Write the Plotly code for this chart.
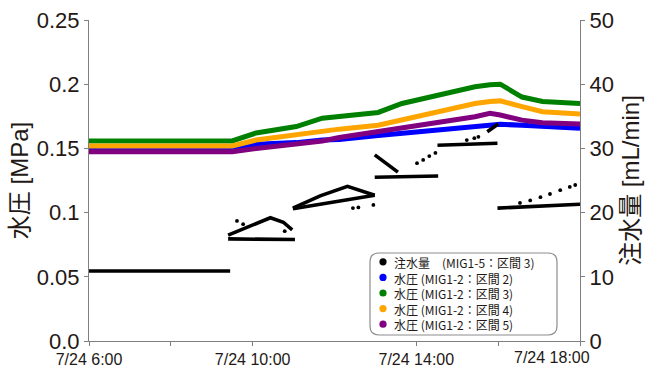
import plotly.graph_objects as go

DAY = "2020-07-24"

# ---- water pressure (MPa), sampled along each curve ----
P_TIME = ["06:00", "09:30", "10:05", "11:04", "11:42", "12:07", "13:04", "13:39",
          "14:42", "15:26", "15:48", "16:03", "16:35", "17:05", "18:00"]
P_ZONE2 = [0.1495, 0.1495, 0.1532, 0.1545, 0.1565, 0.1570, 0.1600, 0.1617,
           0.1650, 0.1670, 0.1680, 0.1688, 0.1680, 0.1670, 0.1657]
P_ZONE3 = [0.1558, 0.1558, 0.1620, 0.1670, 0.1735, 0.1750, 0.1780, 0.1850,
           0.1930, 0.1980, 0.1995, 0.2000, 0.1900, 0.1865, 0.1850]
P_ZONE4 = [0.1519, 0.1519, 0.1565, 0.1610, 0.1640, 0.1650, 0.1680, 0.1720,
           0.1800, 0.1850, 0.1865, 0.1870, 0.1825, 0.1786, 0.1768]
P_ZONE5 = [0.1474, 0.1474, 0.1500, 0.1534, 0.1558, 0.1585, 0.1630, 0.1664,
           0.1708, 0.1747, 0.1773, 0.1760, 0.1720, 0.1700, 0.1690]

# ---- injection rate (mL/min), MIG1-5 zone 3: traced runs ----
Q_RUNS = [
    (["06:00", "09:27"], [10.9, 10.9]),
    (["09:24", "11:02"], [15.9, 15.8]),
    (["09:24", "10:26", "10:45", "10:58"], [16.5, 19.2, 18.5, 17.3]),
    (["10:59", "12:59"], [20.6, 22.7]),
    (["10:59", "11:39", "12:19", "12:38", "12:59"], [20.7, 22.6, 24.1, 23.5, 22.7]),
    (["12:59", "13:33"], [29.0, 26.3]),
    (["12:59", "14:32"], [25.5, 25.7]),
    (["14:31", "15:59"], [30.5, 30.8]),
    (["15:44", "16:00"], [32.6, 33.8]),
    (["15:59", "18:00"], [20.7, 21.3]),
]
# isolated readings between the runs
Q_DOT_TIME = ["09:37", "09:46", "10:47", "12:27", "12:35", "12:57",
              "14:01", "14:10", "14:19", "14:28", "15:14", "15:25", "15:31",
              "16:32", "16:47", "17:02", "17:16", "17:31", "17:45", "17:53"]
Q_DOT_VAL = [18.7, 18.2, 17.1, 20.7, 20.8, 21.2,
             27.7, 28.2, 28.8, 29.3, 31.3, 31.6, 31.8,
             21.5, 21.9, 22.4, 22.9, 23.5, 24.0, 24.3]

Y_TICKS = [0, 0.05, 0.1, 0.15, 0.2, 0.25]
Y_TICKTEXT = ["0.0", "0.05", "0.1", "0.15", "0.2", "0.25"]
Y2_TICKS = [0, 10, 20, 30, 40, 50]
X_TICKS = ["06:00", "08:00", "10:00", "14:00", "16:00", "18:00"]
X_TICKTEXT = ["7/24 6:00", "", "7/24 10:00", "7/24 14:00", "", ""]
X_LAST_LABEL = "7/24 18:00"

SERIES = [
    ("注水量　(MIG1-5：区間 3)", "#000000"),
    ("水圧 (MIG1-2：区間 2)", "#0000ff"),
    ("水圧 (MIG1-2：区間 3)", "#008000"),
    ("水圧 (MIG1-2：区間 4)", "#ffa500"),
    ("水圧 (MIG1-2：区間 5)", "#800080"),
]

TXT = "#231815"
AX = "#7f7f7f"
FONT = "Liberation Sans, Arial, Noto Sans CJK JP, sans-serif"
JFONT = "Noto Sans CJK JP, sans-serif"

W, H = 646, 369
L, R, T, B = 89, 580, 20, 341


def ts(hhmm):
    return f"{DAY} {hhmm}"


def px(x):
    return (x - L) / (R - L)


def py(y):
    return (B - y) / (B - T)


fig = go.Figure()

pressure = [P_ZONE2, P_ZONE3, P_ZONE4, P_ZONE5]
for (name, color), vals in zip(SERIES[1:], pressure):
    fig.add_trace(go.Scatter(
        x=[ts(t) for t in P_TIME], y=vals, mode="lines", name=name,
        line=dict(color=color, width=5), showlegend=False, yaxis="y"))

qx, qy = [], []
for times, vals in Q_RUNS:
    qx += [ts(t) for t in times] + [None]
    qy += list(vals) + [None]
fig.add_trace(go.Scatter(
    x=qx, y=qy, mode="lines", name=SERIES[0][0], connectgaps=False,
    line=dict(color="#000000", width=3.6), showlegend=False, yaxis="y2"))
fig.add_trace(go.Scatter(
    x=[ts(t) for t in Q_DOT_TIME], y=Q_DOT_VAL, mode="markers", name=SERIES[0][0],
    marker=dict(color="#000000", size=3.8), showlegend=False, yaxis="y2"))

# legend box with rounded corners
bx0, bx1, by0, by1, rad = 370, 557, 253, 335, 9
rx, ry = rad / (R - L), rad / (B - T)
X0, X1, Y0, Y1 = px(bx0), px(bx1), py(by1), py(by0)
path = (f"M {X0+rx},{Y0} L {X1-rx},{Y0} Q {X1},{Y0} {X1},{Y0+ry} "
        f"L {X1},{Y1-ry} Q {X1},{Y1} {X1-rx},{Y1} L {X0+rx},{Y1} "
        f"Q {X0},{Y1} {X0},{Y1-ry} L {X0},{Y0+ry} Q {X0},{Y0} {X0+rx},{Y0} Z")
shapes = [dict(type="path", path=path, xref="paper", yref="paper",
               line=dict(color="#8c8c8c", width=1.2), fillcolor="white", layer="above")]

# legend rows: one multi-line text block, markers on the line centres
leg_fs = 12
leg_gap = 1.3 * leg_fs
leg_mid = 293
rows_y = [leg_mid + (i - 2) * leg_gap for i in range(len(SERIES))]
for (name, color), yy in zip(SERIES, rows_y):
    shapes.append(dict(type="circle", xref="paper", yref="paper",
                       xsizemode="pixel", ysizemode="pixel",
                       xanchor=px(383), yanchor=py(yy),
                       x0=-3.6, x1=3.6, y0=-3.6, y1=3.6,
                       fillcolor=color, line=dict(width=0), layer="above"))
annotations = [dict(text="<br>".join(n for n, _ in SERIES), x=px(393), y=py(leg_mid),
                    xref="paper", yref="paper", xanchor="left", yanchor="middle",
                    align="left", showarrow=False, borderpad=0,
                    font=dict(family=JFONT, size=leg_fs, color=TXT))]

# last time label pulled inward so it stays on the canvas
annotations.append(dict(text=X_LAST_LABEL, x=ts("18:00"), xref="x", y=0, yref="paper",
                        xanchor="right", yanchor="top", xshift=11, yshift=-7,
                        showarrow=False, borderpad=0,
                        font=dict(family=FONT, size=16, color=TXT)))

fig.update_layout(
    width=W, height=H,
    margin=dict(l=L, r=W - R, t=T, b=H - B, autoexpand=False),
    paper_bgcolor="white", plot_bgcolor="white",
    font=dict(family=FONT, color=TXT),
    showlegend=False,
    shapes=shapes, annotations=annotations,
    xaxis=dict(type="date", range=[ts("06:00"), ts("18:00")],
               tickvals=[ts(t) for t in X_TICKS], ticktext=X_TICKTEXT,
               ticks="outside", ticklen=4, tickcolor=AX, tickwidth=1,
               showline=True, linecolor=AX, linewidth=1, showgrid=False, zeroline=False,
               tickfont=dict(size=16, color=TXT)),
    yaxis=dict(range=[0, 0.25], tickvals=Y_TICKS, ticktext=Y_TICKTEXT,
               ticks="outside", ticklen=4, tickcolor=AX,
               showline=True, linecolor=AX, linewidth=1, showgrid=False, zeroline=False,
               tickfont=dict(size=22, color=TXT),
               title=dict(text="水圧 [MPa]", font=dict(size=24, color=TXT), standoff=1)),
    yaxis2=dict(range=[0, 50], tickvals=Y2_TICKS, overlaying="y", side="right",
                ticks="outside", ticklen=4, tickcolor=AX,
                showline=True, linecolor=AX, linewidth=1, showgrid=False, zeroline=False,
                tickfont=dict(size=22, color=TXT),
                title=dict(text="注水量 [mL/min]", font=dict(size=24, color=TXT), standoff=9)),
)

fig.write_html("out.html")
